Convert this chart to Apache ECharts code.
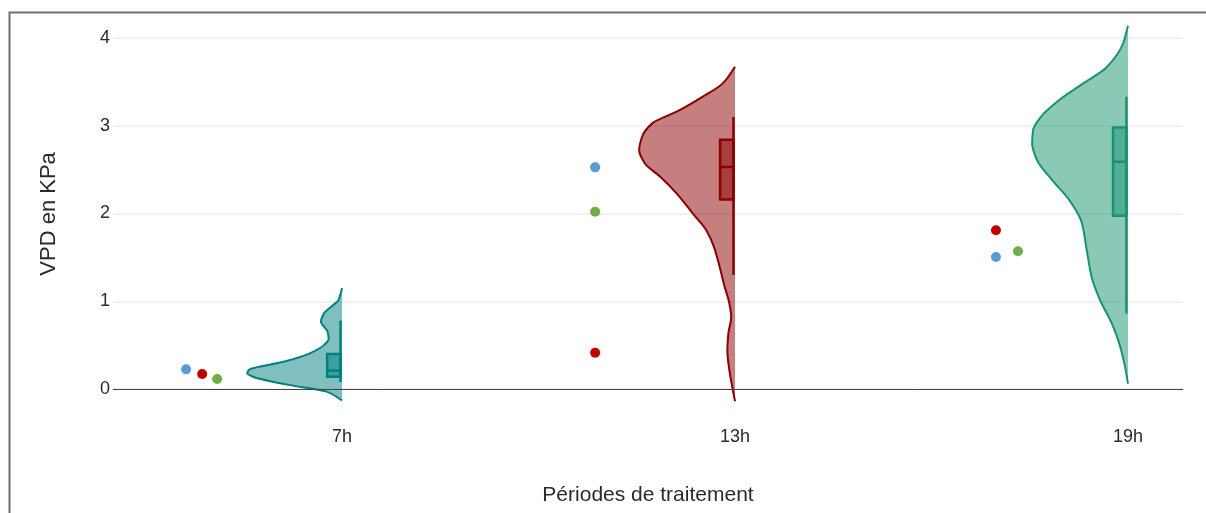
<!DOCTYPE html>
<html><head><meta charset="utf-8">
<script src="https://cdn.jsdelivr.net/npm/echarts@6/dist/echarts.min.js"></script>
<style>html,body{margin:0;padding:0;background:#fff;}#c{width:1206px;height:513px;}</style>
</head><body><div id="c"></div>
<script>
// ---- data ----
const categories = ['7h', '13h', '19h'];
const yTicks = [0, 1, 2, 3, 4];

// violin outlines: [VPD (kPa), relative half-width 0..1]
const violin7h = [[-0.13,0],[-0.03,0.16],[0.05,0.57],[0.14,0.93],[0.18,0.99],[0.22,0.97],[0.31,0.61],[0.41,0.33],[0.50,0.19],[0.57,0.14],[0.65,0.15],[0.77,0.22],[0.86,0.19],[0.95,0.10],[1.01,0.04],[1.15,0]];
const violin13h = [[-0.14,0],[0.03,0.03],[0.22,0.06],[0.44,0.08],[0.63,0.07],[0.82,0.04],[0.98,0.06],[1.17,0.11],[1.39,0.16],[1.62,0.22],[1.81,0.30],[2.00,0.44],[2.23,0.61],[2.42,0.78],[2.57,0.94],[2.72,1.0],[2.875,0.97],[3.03,0.86],[3.16,0.61],[3.33,0.34],[3.48,0.13],[3.67,0]];
const violin19h = [[0.06,0],[0.25,0.03],[0.48,0.08],[0.75,0.17],[1.01,0.29],[1.28,0.38],[1.58,0.43],[1.89,0.48],[2.15,0.61],[2.38,0.79],[2.61,0.95],[2.80,1.0],[2.95,0.99],[3.10,0.91],[3.29,0.72],[3.48,0.47],[3.67,0.22],[3.94,0.05],[4.14,0]];

// box stats: [lower whisker, Q1, median, Q3, upper whisker]
const box7h = [0.08, 0.14, 0.21, 0.40, 0.78];
const box13h = [1.30, 2.16, 2.53, 2.84, 3.10];
const box19h = [0.86, 1.975, 2.59, 2.98, 3.33];

// individual points
const blueValues = [0.224, 2.526, 1.504];
const redValues = [0.171, 0.414, 1.81];
const greenValues = [0.114, 2.02, 1.569];
const blueJitter = [-0.397, -0.356, -0.336];
const redJitter = [-0.356, -0.356, -0.336];
const greenJitter = [-0.318, -0.356, -0.280];

// ---- styling ----
const violinColors = ['#008080', '#8b0000', '#17936f'];
const violinFills = ['rgba(0,128,128,0.5)', 'rgba(139,0,0,0.5)', 'rgba(23,147,111,0.5)'];
const profiles = [violin7h, violin13h, violin19h];
const boxes = [box7h, box13h, box19h];
const HALF_W = 0.244;   // max half-width of a violin in x units
const BOX_L = 0.038, BOX_R = 0.004;

// smooth outline of w(v) as cubic Hermite (monotone slopes), drawn as bezier path
function violinPath(prof, i, api) {
  const n = prof.length;
  const d = [];
  for (let k = 0; k < n - 1; k++) d.push((prof[k + 1][1] - prof[k][1]) / (prof[k + 1][0] - prof[k][0]));
  const m = [];
  for (let k = 0; k < n; k++) {
    if (k === 0) m.push(d[0]);
    else if (k === n - 1) m.push(d[n - 2]);
    else if (d[k - 1] * d[k] <= 0) m.push(0);
    else {
      const h0 = prof[k][0] - prof[k - 1][0], h1 = prof[k + 1][0] - prof[k][0];
      const w1 = 2 * h1 + h0, w2 = h1 + 2 * h0;
      m.push((w1 + w2) / (w1 / d[k - 1] + w2 / d[k]));
    }
  }
  const P = (v, w) => api.coord([i - w * HALF_W, v]);
  const p0 = P(prof[0][0], prof[0][1]);
  let s = 'M' + p0[0] + ',' + p0[1];
  for (let k = 0; k < n - 1; k++) {
    const [v1, w1] = prof[k], [v2, w2] = prof[k + 1];
    const h = v2 - v1;
    const c1 = P(v1 + h / 3, w1 + m[k] * h / 3);
    const c2 = P(v2 - h / 3, w2 - m[k + 1] * h / 3);
    const e = P(v2, w2);
    s += ' C' + c1[0] + ',' + c1[1] + ' ' + c2[0] + ',' + c2[1] + ' ' + e[0] + ',' + e[1];
  }
  return s;
}

function renderViolin(params, api) {
  const i = api.value(0);
  const prof = profiles[i], b = boxes[i], col = violinColors[i], fill = violinFills[i];
  const outline = violinPath(prof, i, api);
  const top = api.coord([i, prof[prof.length - 1][0]]);
  const bot = api.coord([i, prof[0][0]]);
  const fillPath = outline + ' L' + top[0] + ',' + top[1] + ' L' + bot[0] + ',' + bot[1] + ' Z';
  const bl = api.coord([i - BOX_L, b[3]]);
  const br = api.coord([i - BOX_R, b[1]]);
  const wLo = api.coord([i - BOX_R, b[0]]);
  const wHi = api.coord([i - BOX_R, b[4]]);
  const med = api.coord([i - BOX_L, b[2]]);
  return {
    type: 'group',
    children: [
      { type: 'path', shape: { pathData: fillPath }, style: { fill: fill, stroke: null } },
      { type: 'path', shape: { pathData: outline }, style: { fill: null, stroke: col, lineWidth: 2 } },
      { type: 'line', shape: { x1: wHi[0], y1: wHi[1], x2: wLo[0], y2: wLo[1] }, style: { stroke: col, lineWidth: 2.5 } },
      { type: 'rect', shape: { x: bl[0], y: bl[1], width: br[0] - bl[0], height: br[1] - bl[1] }, style: { fill: fill, stroke: col, lineWidth: 2.5 } },
      { type: 'line', shape: { x1: med[0], y1: med[1], x2: br[0], y2: med[1] }, style: { stroke: col, lineWidth: 2.5 } }
    ]
  };
}

const pts = (vals, jit) => vals.map((v, k) => [k + jit[k], v]);
const font = 'Liberation Sans, Arial, sans-serif';

const chart = echarts.init(document.getElementById('c'), null, { renderer: 'canvas' });
chart.setOption({
  animation: false,
  backgroundColor: '#fff',
  graphic: [{ type: 'rect', left: 7, top: 10, shape: { width: 1220, height: 530 }, style: { fill: null, stroke: '#6f6f6f', lineWidth: 2 }, silent: true, z: 0 }],
  grid: { left: 113, right: 23, top: 20.45, height: 394.9, containLabel: false },
  xAxis: {
    type: 'value', min: -0.583, max: 2.14,
    axisLine: { show: false }, axisTick: { show: false, customValues: [0, 1, 2] }, splitLine: { show: false },
    axisLabel: { customValues: [0, 1, 2], formatter: v => categories[Math.round(v)], margin: 13, fontSize: 18, color: '#2a2a2a', fontFamily: font },
    name: 'Périodes de traitement', nameLocation: 'middle', nameGap: 69,
    nameTextStyle: { fontSize: 21, color: '#2a2a2a', fontFamily: font }
  },
  yAxis: {
    type: 'value', min: -0.3, max: 4.2,
    axisLine: { show: false }, axisTick: { show: false, customValues: yTicks },
    splitLine: { show: true, lineStyle: { color: '#ececec', width: 1.5 } },
    axisLabel: { customValues: yTicks, margin: 3, fontSize: 18, color: '#2a2a2a', fontFamily: font },
    name: 'VPD en KPa', nameLocation: 'middle', nameGap: 53,
    nameTextStyle: { fontSize: 22, color: '#2a2a2a', fontFamily: font, padding: [0, 0, 0, 8] }
  },
  series: [
    {
      type: 'scatter', data: [], z: 1, silent: true,
      markLine: { silent: true, symbol: 'none', label: { show: false }, lineStyle: { color: '#444', width: 1, type: 'solid' }, data: [{ yAxis: 0 }] }
    },
    { type: 'custom', renderItem: renderViolin, data: categories.map((c, k) => [k]), z: 2, silent: true, clip: false },
    { type: 'scatter', name: 'blue', data: pts(blueValues, blueJitter), symbolSize: 10, itemStyle: { color: '#5b9bd5', opacity: 1 }, z: 3 },
    { type: 'scatter', name: 'red', data: pts(redValues, redJitter), symbolSize: 10, itemStyle: { color: '#c00000', opacity: 1 }, z: 3 },
    { type: 'scatter', name: 'green', data: pts(greenValues, greenJitter), symbolSize: 10, itemStyle: { color: '#70ad47', opacity: 1 }, z: 3 }
  ]
});
</script>
</body></html>
